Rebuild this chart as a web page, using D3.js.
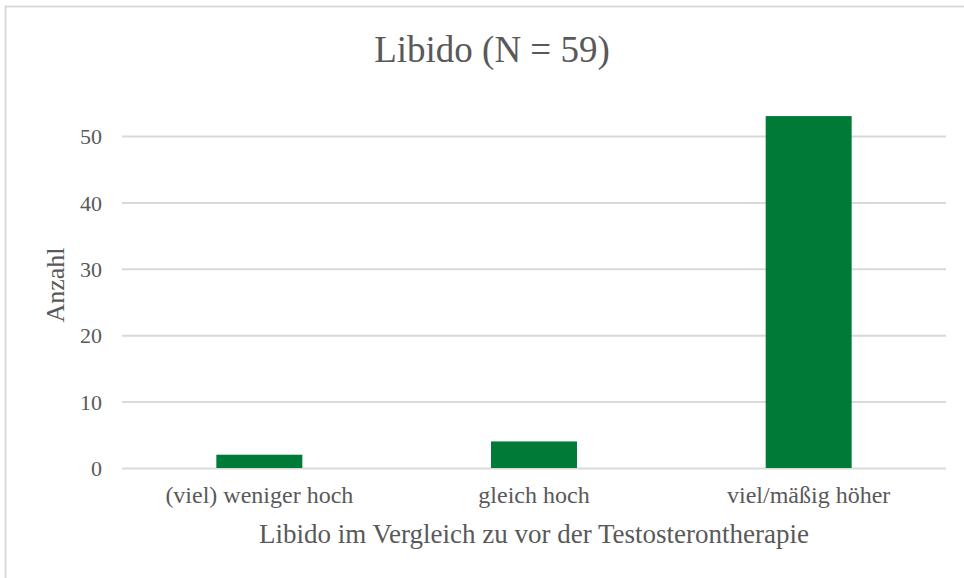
<!DOCTYPE html>
<html>
<head>
    <meta charset="utf-8">
    <script src="https://cdnjs.cloudflare.com/ajax/libs/d3/7.8.5/d3.min.js"></script>
    <style>
        body {
            margin: 0;
            background: #fff;
            font-family: 'Liberation Serif', 'Times New Roman', serif;
        }
    </style>
</head>
<body>
<div id="chart"></div>
<script>
// data
var categories = ["(viel) weniger hoch", "gleich hoch", "viel/mäßig höher"];
var counts = [2, 4, 53];
var yTicks = [0, 10, 20, 30, 40, 50];

var W = 964, H = 578;
var plot = {left: 122, right: 946, top: 136, bottom: 468};
var textCol = "#595959";

var svg = d3.select("#chart")
  .append("svg")
    .attr("width", W)
    .attr("height", H);

// chart frame (only top and left visible in the crop)
svg.append("rect")
    .attr("x", 5.5).attr("y", 6.5)
    .attr("width", W + 20).attr("height", H + 20)
    .attr("fill", "#fff")
    .attr("stroke", "#d9d9d9")
    .attr("stroke-width", 2);

var x = d3.scaleBand()
    .domain(categories)
    .range([plot.left, plot.right])
    .paddingInner(0.687)
    .paddingOuter(0.3435);

var y = d3.scaleLinear()
    .domain([0, 50])
    .range([plot.bottom, plot.top]);

// gridlines + y labels
var yAxis = svg.append("g")
    .attr("transform", "translate(" + plot.left + ",0)")
    .call(d3.axisLeft(y).tickValues(yTicks).tickSize(-(plot.right - plot.left)).tickPadding(20));
yAxis.select(".domain").remove();
yAxis.selectAll(".tick line")
    .attr("stroke", "#d9d9d9")
    .attr("stroke-width", 2);
yAxis.selectAll(".tick text")
    .attr("fill", textCol)
    .attr("dy", "0.35em")
    .style("font-family", "'Liberation Serif', serif")
    .style("font-size", "22px");

// bars
svg.append("g")
  .selectAll("rect")
  .data(counts)
  .enter()
  .append("rect")
    .attr("x", function (d, i) { return x(categories[i]); })
    .attr("y", function (d) { return y(d); })
    .attr("width", x.bandwidth())
    .attr("height", function (d) { return y(0) - y(d); })
    .attr("fill", "#007a37");

// x category labels
var xAxis = svg.append("g")
    .attr("transform", "translate(0," + plot.bottom + ")")
    .call(d3.axisBottom(x).tickSize(0).tickPadding(18));
xAxis.select(".domain").remove();
xAxis.selectAll(".tick text")
    .attr("fill", textCol)
    .style("font-family", "'Liberation Serif', serif")
    .style("font-size", "24px");

// title
svg.append("text")
    .attr("x", (plot.left + plot.right) / 2 - 42)
    .attr("y", 62)
    .attr("text-anchor", "middle")
    .attr("fill", textCol)
    .style("font-size", "37px")
    .text("Libido (N = 59)");

// axis titles
svg.append("text")
    .attr("x", 534)
    .attr("y", 543)
    .attr("text-anchor", "middle")
    .attr("fill", textCol)
    .style("font-size", "27px")
    .text("Libido im Vergleich zu vor der Testosterontherapie");

svg.append("text")
    .attr("transform", "translate(64,285) rotate(-90)")
    .attr("text-anchor", "middle")
    .attr("fill", textCol)
    .style("font-size", "26px")
    .text("Anzahl");
</script>
</body>
</html>
